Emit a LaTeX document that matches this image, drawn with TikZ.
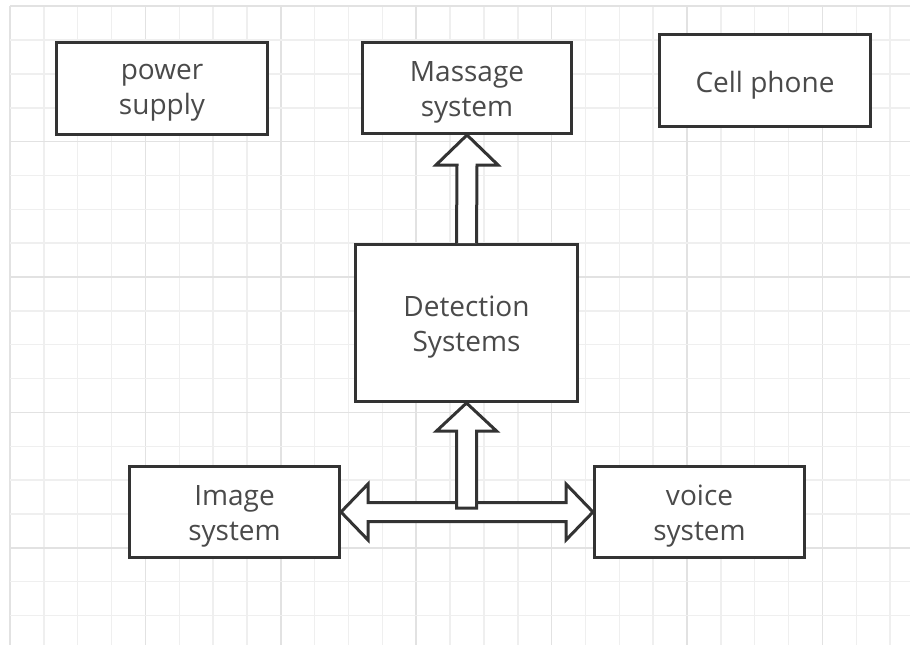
\documentclass[tikz,border=0pt]{standalone}
\usepackage{fontspec}
\setmainfont{Open Sans}
\usetikzlibrary{calc}
\definecolor{gridminor}{HTML}{EFEFEF}
\definecolor{gridmajor}{HTML}{E2E2E2}
\definecolor{edge}{HTML}{333333}
\definecolor{txt}{HTML}{4A4A4A}
\tikzset{
  box/.style={draw=edge, line width=3pt, fill=white, inner sep=0pt},
  lbl/.style={align=center, text=txt, font=\fontsize{28}{35}\selectfont, inner sep=0pt, yshift=-4.5pt},
  barrow/.style={draw=edge, line width=3pt, fill=white, line join=miter}
}
\begin{document}
\begin{tikzpicture}[x=1pt,y=-1pt]
\useasboundingbox (0,0) rectangle (910,645);
\fill[white] (0,0) rectangle (910,645);
% grid
\foreach \k in {0,...,26} {
  \pgfmathsetmacro{\xx}{10+33.85*\k}
  \pgfmathtruncatemacro{\m}{mod(\k,4)}
  \ifnum\m=0
    \draw[gridmajor, line width=1.6pt] (\xx,6) -- (\xx,645);
  \else
    \draw[gridminor, line width=1.5pt] (\xx,6) -- (\xx,645);
  \fi
}
\foreach \k in {0,...,18} {
  \pgfmathsetmacro{\yy}{6.2+33.85*\k}
  \pgfmathtruncatemacro{\m}{mod(\k,4)}
  \ifnum\m=0
    \draw[gridmajor, line width=1.6pt] (10,\yy) -- (910,\yy);
  \else
    \draw[gridminor, line width=1.5pt] (10,\yy) -- (910,\yy);
  \fi
}
% boxes
\node[box, minimum width=211pt, minimum height=92pt, label={[lbl]center:power\\supply}] (pow) at (162,88) {};
\node[box, minimum width=209pt, minimum height=91pt, label={[lbl]center:Massage\\system}] (msg) at (467,88) {};
\node[box, minimum width=211pt, minimum height=92pt, label={[lbl]center:Cell phone}] (cell) at (765,80.5) {};
\node[box, minimum width=222pt, minimum height=157pt, label={[lbl]center:Detection\\Systems}] (det) at (466.5,323) {};
\node[box, minimum width=210pt, minimum height=91pt, label={[lbl]center:Image\\system}] (img) at (234.5,512) {};
\node[box, minimum width=210pt, minimum height=91pt, label={[lbl]center:voice\\system}] (voi) at (699.5,512) {};
% arrow detection -> massage
\draw[barrow] ($(det.north)+(-10,0)$) -- ($(msg.south)+(-10,30)$) -- ($(msg.south)+(-31,30)$)
  -- (msg.south) -- ($(msg.south)+(31,30)$) -- ($(msg.south)+(10,30)$) -- ($(det.north)+(10,0)$);
% horizontal double arrow
\draw[barrow] (img.east) -- ($(img.east)+(27,-28)$) -- ($(img.east)+(27,-9.5)$)
  -- ($(voi.west)+(-27,-9.5)$) -- ($(voi.west)+(-27,-28)$) -- (voi.west)
  -- ($(voi.west)+(-27,28)$) -- ($(voi.west)+(-27,9.5)$)
  -- ($(img.east)+(27,9.5)$) -- ($(img.east)+(27,28)$) -- cycle;
% vertical arrow hub -> detection
\coordinate (hub) at (det.south |- img.east);
\draw[barrow] ($(hub)+(-10,-4)$) -- ($(det.south)+(-10,28)$) -- ($(det.south)+(-30,28)$)
  -- (det.south) -- ($(det.south)+(30,28)$) -- ($(det.south)+(10,28)$) -- ($(hub)+(10,-4)$) -- cycle;
\end{tikzpicture}
\end{document}
